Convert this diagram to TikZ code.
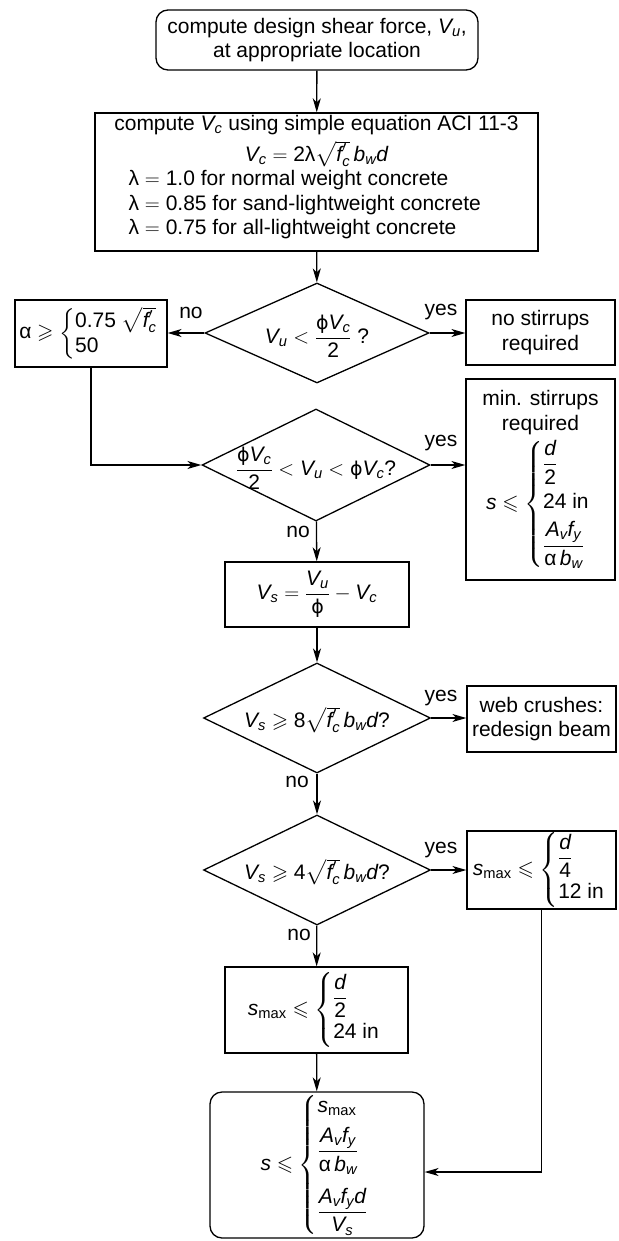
\documentclass[tikz,border=0pt]{standalone}
\usepackage{amsmath,amssymb}
\usepackage{fontspec}
\setmainfont{Liberation Sans}
\newfontfamily\dvfont{DejaVu Sans}
\usetikzlibrary{shapes.geometric,arrows.meta}
\newcommand\mi[1]{\text{\itshape #1}}
\newcommand\vr[2]{\text{\itshape #1}_{\text{\itshape #2}}}
\newcommand\rtfc{\sqrt{\mi{f}'_{\mi{c}}}}
\newcommand\lam{\text{λ}}
\newcommand\phii{\text{\dvfont\fontsize{19}{22}\selectfont ϕ}}
\newcommand\alp{\text{α}}
\newcommand\tx[1]{\text{#1}}
\newcommand\smax{\mi{s}_{\text{max}}}
\newcommand\gap[1]{\\\noalign{\vskip #1}}
\tikzset{
  box/.style={draw, rectangle, inner sep=0pt, align=center},
  rbox/.style={box, rounded corners=12pt},
  dia/.style={draw, diamond, inner sep=0pt},
  lbl/.style={inner sep=0pt, align=center},
  flow/.style={->},
}
\begin{document}
\begin{tikzpicture}[x=1pt,y=-1pt, font=\fontsize{21}{24.5}\selectfont,
  line width=1.3pt, >={Stealth[length=14pt,width=8pt,inset=4pt]}]
\useasboundingbox (0,0) rectangle (618,1241);

\node[rbox, minimum width=322pt, minimum height=60pt] (top) at (317,40)
  {compute design shear force, $\vr{V}{u}$,\\ at appropriate location};

\node[box, minimum width=443pt, minimum height=138pt] (calc) at (316.5,182) {};
\node[lbl] (calc1) at (316.5,125) {compute $\vr{V}{c}$ using simple equation ACI 11-3};
\node[lbl] (calc2) at (316.5,154) {$\vr{V}{c} = \tx{2}\lam\rtfc\,\vr{b}{w}\mi{d}$};
\node[lbl, anchor=west, align=left] (calc3) at (128,205)
  {λ $=$ 1.0 for normal weight concrete\\
   λ $=$ 0.85 for sand-lightweight concrete\\
   λ $=$ 0.75 for all-lightweight concrete};

\node[dia, minimum width=224pt, minimum height=100pt] (d1) at (317,333) {};
\node[lbl] (d1t) at (317,336) {$\vr{V}{u} < \dfrac{\phii\vr{V}{c}}{\tx{2}}$ ?};

\node[box, minimum width=152pt, minimum height=67pt] (alpha) at (91,333.5)
  {$\alp \geqslant \left\{\begin{array}{@{}l}\text{0.75 }\rtfc\\ \text{50}\end{array}\right.$};

\node[box, minimum width=149pt, minimum height=65pt] (nostir) at (540.5,332.5)
  {no stirrups\\required};

\node[dia, minimum width=228pt, minimum height=112pt] (d2) at (316,465) {};
\node[lbl] (d2t) at (316,468) {$\dfrac{\phii\vr{V}{c}}{\tx{2}} < \vr{V}{u} < \phii\vr{V}{c}$?};

\node[box, minimum width=149pt, minimum height=201pt] (minstir) at (540.5,479.5)
  {min. stirrups\\required\\[5pt]
   $\mi{s} \leqslant \left\{\begin{array}{@{}l}\dfrac{\mi{d}}{\tx{2}}\gap{7pt} \text{24 in}\gap{6pt}
     \dfrac{\vr{A}{v}\vr{f}{y}}{\alp\,\vr{b}{w}}\end{array}\right.$};

\node[box, minimum width=184pt, minimum height=65pt] (vs) at (317,594.5)
  {$\vr{V}{s} = \dfrac{\vr{V}{u}}{\phii} - \vr{V}{c}$};

\node[dia, minimum width=227pt, minimum height=110pt] (d3) at (317,718) {};
\node[lbl] (d3t) at (317,720) {$\vr{V}{s} \geqslant \tx{8}\rtfc\,\vr{b}{w}\mi{d}$?};

\node[box, minimum width=149pt, minimum height=66pt] (web) at (541.5,719)
  {web crushes:\\redesign beam};

\node[dia, minimum width=227pt, minimum height=110pt] (d4) at (317,870) {};
\node[lbl] (d4t) at (317,872) {$\vr{V}{s} \geqslant \tx{4}\rtfc\,\vr{b}{w}\mi{d}$?};

\node[box, minimum width=149pt, minimum height=78pt] (sm4) at (541.5,870)
  {$\smax \leqslant \left\{\begin{array}{@{}l}\dfrac{\mi{d}}{\tx{4}}\gap{4pt} \text{12 in}\end{array}\right.$};

\node[box, minimum width=183pt, minimum height=86pt] (sm2) at (316.5,1010)
  {$\smax \leqslant \left\{\begin{array}{@{}l}\dfrac{\mi{d}}{\tx{2}}\gap{4pt} \text{24 in}\end{array}\right.$};

\node[rbox, minimum width=214pt, minimum height=146pt] (fin) at (317,1165)
  {$\mi{s} \leqslant \left\{\begin{array}{@{}l}\smax\gap{8pt}
     \dfrac{\vr{A}{v}\vr{f}{y}}{\alp\,\vr{b}{w}}\gap{14pt}
     \dfrac{\vr{A}{v}\vr{f}{y}\mi{d}}{\vr{V}{s}}\end{array}\right.$};

\coordinate (c1) at (541.5,1172);

\draw[flow] (top) -- (calc);
\draw[flow] (calc) -- (d1);
\draw[flow] (d1.west) -- (alpha.east |- d1.west);
\draw[flow] (d1.east) -- (nostir.west |- d1.east);
\draw[flow] (alpha.south) |- (d2.west);
\draw[flow] (d2.east) -- (minstir.west |- d2.east);
\draw[flow] (d2) -- (vs);
\draw[flow] (vs) -- (d3);
\draw[flow] (d3.east) -- (web.west |- d3.east);
\draw[flow] (d3) -- (d4);
\draw[flow] (d4.east) -- (sm4.west |- d4.east);
\draw[flow] (d4) -- (sm2);
\draw[flow] (sm2) -- (fin);
\draw[flow] (sm4.south) -- (c1) -- (fin.east |- c1);

\node[lbl] (n1) at (191,313) {no};
\node[lbl] (y1) at (441,312) {yes};
\node[lbl] (y2) at (441,443) {yes};
\node[lbl] (n2) at (298,532) {no};
\node[lbl] (y3) at (441,698) {yes};
\node[lbl] (n3) at (297,782) {no};
\node[lbl] (y4) at (441,850) {yes};
\node[lbl] (n4) at (299,935) {no};
\end{tikzpicture}
\end{document}
